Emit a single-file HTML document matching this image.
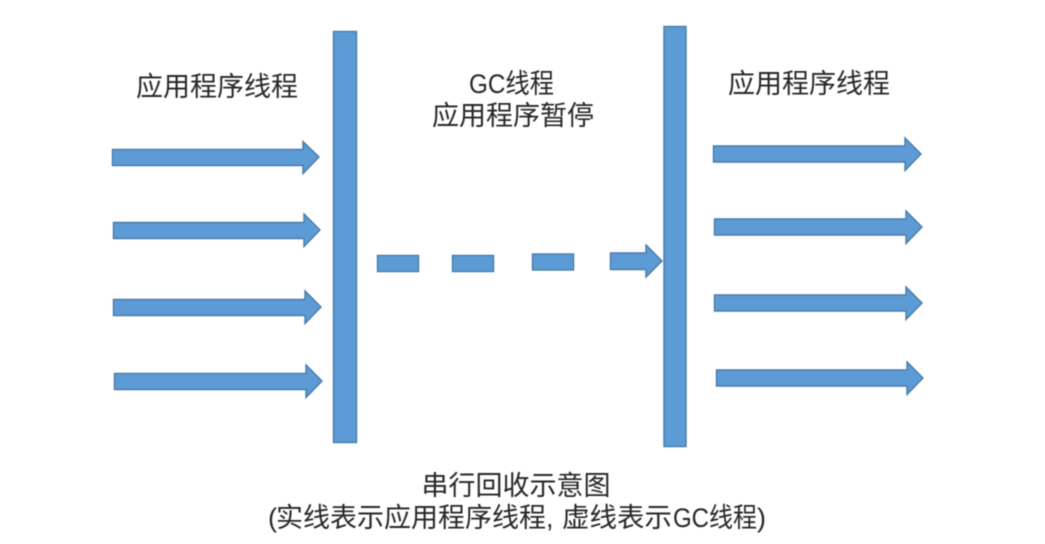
<!DOCTYPE html>
<html lang="zh">
<head>
<meta charset="utf-8">
<title>串行回收示意图</title>
<style>
html,body{margin:0;padding:0;background:#fff;width:1045px;height:544px;overflow:hidden}
svg{display:block}
text{font-family:"Liberation Sans","Noto Sans CJK SC",sans-serif;font-size:27px;fill:#262626}
.s{fill:#5b9bd5;stroke:#4a7ba8;stroke-width:1.4}
</style>
</head>
<body>
<svg width="1045" height="544" viewBox="0 0 1045 544" xmlns="http://www.w3.org/2000/svg">
<defs>
<filter id="b" x="-5%" y="-5%" width="110%" height="110%"><feGaussianBlur stdDeviation="0.55"/></filter>
</defs>
<g filter="url(#b)">
<rect class="s" x="333.5" y="31.5" width="23" height="411"/>
<rect class="s" x="664" y="26.5" width="22" height="420"/>

<polygon class="s" points="112.5,149.5 303,149.5 303,141.5 319,157 303,173.5 303,165.5 112.5,165.5"/>
<polygon class="s" points="113.5,222.5 304,222.5 304,214 320,230 304,246.5 304,238.5 113.5,238.5"/>
<polygon class="s" points="113.5,299.5 305,299.5 305,291 321,307 305,323.5 305,315.5 113.5,315.5"/>
<polygon class="s" points="114.5,373.5 306,373.5 306,365 322,381 306,397.5 306,389.5 114.5,389.5"/>

<polygon class="s" points="713.5,146 905,146 905,138 921,154 905,170.5 905,162 713.5,162"/>
<polygon class="s" points="714.5,219 906,219 906,211 922,227 906,243.5 906,235 714.5,235"/>
<polygon class="s" points="714.5,295 906,295 906,287 922,303 906,319.5 906,311 714.5,311"/>
<polygon class="s" points="716.5,370 907,370 907,362 923,378 907,394.5 907,386 716.5,386"/>

<rect class="s" x="377.5" y="255.5" width="41" height="16"/>
<rect class="s" x="452.5" y="255.5" width="41" height="16"/>
<rect class="s" x="532.5" y="254" width="41" height="16"/>
<polygon class="s" points="610.5,253 646,253 646,245 662,261 646,277 646,269.5 610.5,269.5"/>

<text x="136" y="96" textLength="162" lengthAdjust="spacingAndGlyphs">应用程序线程</text>
<text x="469" y="93" textLength="85" lengthAdjust="spacingAndGlyphs">GC线程</text>
<text x="432" y="125" textLength="162" lengthAdjust="spacingAndGlyphs">应用程序暂停</text>
<text x="728" y="93" textLength="162" lengthAdjust="spacingAndGlyphs">应用程序线程</text>
<text x="421.5" y="495" textLength="189" lengthAdjust="spacingAndGlyphs">串行回收示意图</text>
<text x="268" y="527">(</text>
<text x="276" y="527" textLength="270" lengthAdjust="spacingAndGlyphs">实线表示应用程序线程</text>
<text x="546" y="527">,</text>
<text x="562" y="527" textLength="110" lengthAdjust="spacingAndGlyphs">虚线表示</text>
<text x="673" y="527" textLength="84" lengthAdjust="spacingAndGlyphs">GC线程</text>
<text x="757" y="527">)</text>
</g>
</svg>
</body>
</html>
